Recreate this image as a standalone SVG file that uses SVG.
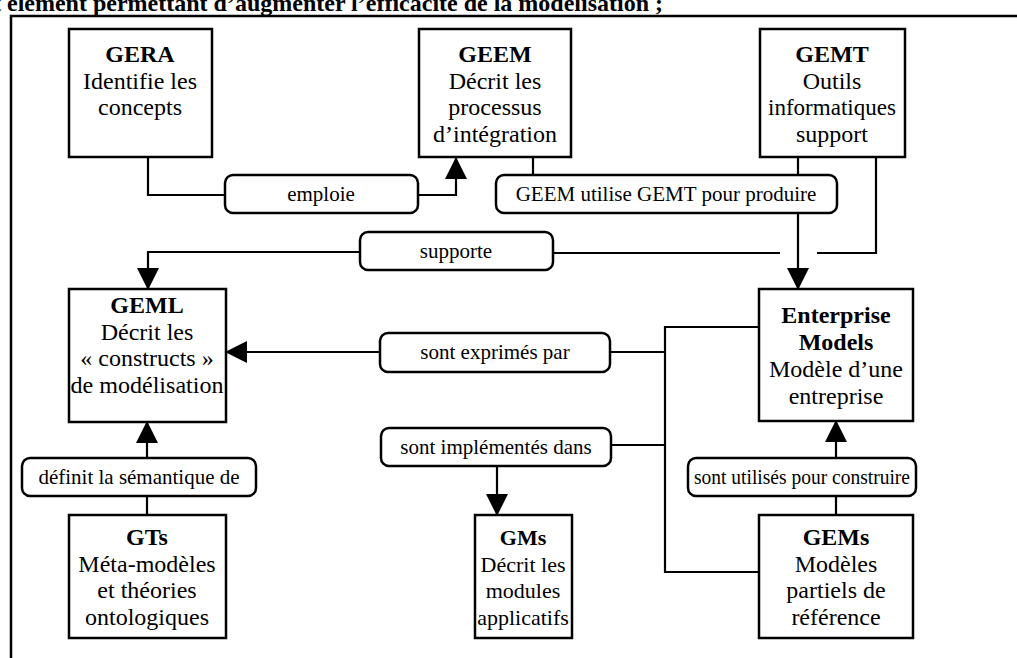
<svg xmlns="http://www.w3.org/2000/svg" width="1017" height="658" viewBox="0 0 1017 658">
<style>
.node{fill:#fff;stroke:#000;stroke-width:2.5}
.lab{fill:#fff;stroke:#000;stroke-width:2.5}
.t{font-family:"Liberation Serif","Times New Roman",serif;font-size:24px;text-anchor:middle;fill:#000}
.s{font-size:22px}
.b{font-weight:bold}
.lt{font-family:"Liberation Serif","Times New Roman",serif;font-size:21px;text-anchor:middle;fill:#000}
.c{fill:none;stroke:#000;stroke-width:2.2}
.frame{fill:none;stroke:#000;stroke-width:2.5}
.title{font-family:"Liberation Serif","Times New Roman",serif;font-size:24px;font-weight:bold;fill:#000}
</style>
<defs>
<marker id="ah" markerUnits="userSpaceOnUse" markerWidth="22" markerHeight="22" viewBox="0 0 22 22" refX="21" refY="11" orient="auto">
<path d="M0,0 L22,11 L0,22 Z" fill="#000"/>
</marker>
</defs>
<rect width="1017" height="658" fill="#fff"/>
<text class="title" x="-7" y="11">t élément permettant d’augmenter l’efficacité de la modélisation ;</text>
<path class="frame" d="M11,658 V16 H1017"/>

<g id="connectors">
<path class="c" d="M148,157 V195 H225"/>
<path class="c" d="M418,195 H456 V158" marker-end="url(#ah)"/>
<path class="c" d="M533,157 V175"/>
<path class="c" d="M798,157 V175"/>
<path class="c" d="M798,213 V289" marker-end="url(#ah)"/>
<path class="c" d="M876,157 V253 H817"/>
<path class="c" d="M780,253 H553"/>
<path class="c" d="M360,252 H148 V289" marker-end="url(#ah)"/>
<path class="c" d="M759,327 H665 V572 H759"/>
<path class="c" d="M610,352 H665"/>
<path class="c" d="M380,352 H226" marker-end="url(#ah)"/>
<path class="c" d="M611,445 H665"/>
<path class="c" d="M497,466 V515" marker-end="url(#ah)"/>
<path class="c" d="M147,515 V496"/>
<path class="c" d="M147,458 V422" marker-end="url(#ah)"/>
<path class="c" d="M836,515 V496"/>
<path class="c" d="M836,458 V421" marker-end="url(#ah)"/>
</g>

<g id="lbl-emploie"><rect class="lab" x="225" y="175" width="193" height="38" rx="8"/><text class="lt" x="321" y="201">emploie</text></g>
<g id="lbl-geem-utilise"><rect class="lab" x="496" y="175" width="341" height="38" rx="8"/><text class="lt" x="666" y="201">GEEM utilise GEMT pour produire</text></g>
<g id="lbl-supporte"><rect class="lab" x="360" y="232" width="193" height="38" rx="8"/><text class="lt" x="456" y="258">supporte</text></g>
<g id="lbl-exprimes"><rect class="lab" x="380" y="333" width="230" height="39" rx="8"/><text class="lt" x="495" y="359">sont exprimés par</text></g>
<g id="lbl-implementes"><rect class="lab" x="381" y="428" width="230" height="38" rx="8"/><text class="lt" x="496" y="454">sont implémentés dans</text></g>
<g id="lbl-definit"><rect class="lab" x="22" y="458" width="234" height="38" rx="8"/><text class="lt" x="139" y="484">définit la sémantique de</text></g>
<g id="lbl-utilises"><rect class="lab" x="688" y="458" width="228" height="38" rx="8"/><text class="lt" x="802" y="484" textLength="216" lengthAdjust="spacingAndGlyphs">sont utilisés pour construire</text></g>

<g id="GERA"><rect class="node" x="69" y="29" width="143" height="128"/>
<text class="t b" x="140" y="62">GERA</text><text class="t" x="140" y="89">Identifie les</text><text class="t" x="140" y="115">concepts</text></g>
<g id="GEEM"><rect class="node" x="419" y="29" width="152" height="128"/>
<text class="t b" x="495" y="62">GEEM</text><text class="t" x="495" y="89">Décrit les</text><text class="t" x="495" y="115">processus</text><text class="t" x="495" y="142">d’intégration</text></g>
<g id="GEMT"><rect class="node" x="760" y="29" width="145" height="128"/>
<text class="t b" x="832" y="62">GEMT</text><text class="t" x="832" y="89">Outils</text><text class="t" x="832" y="115" textLength="128" lengthAdjust="spacingAndGlyphs">informatiques</text><text class="t" x="832" y="142">support</text></g>
<g id="GEML"><rect class="node" x="69" y="289" width="157" height="133"/>
<text class="t b" x="147" y="313">GEML</text><text class="t" x="147" y="340">Décrit les</text><text class="t" x="147" y="366">« constructs »</text><text class="t" x="147" y="393" textLength="153" lengthAdjust="spacingAndGlyphs">de modélisation</text></g>
<g id="EnterpriseModels"><rect class="node" x="759" y="289" width="154" height="132"/>
<text class="t b" x="836" y="323">Enterprise</text><text class="t b" x="836" y="350">Models</text><text class="t" x="836" y="377">Modèle d’une</text><text class="t" x="836" y="404">entreprise</text></g>
<g id="GTs"><rect class="node" x="69" y="515" width="157" height="123"/>
<text class="t b" x="147" y="545">GTs</text><text class="t" x="147" y="572">Méta-modèles</text><text class="t" x="147" y="598">et théories</text><text class="t" x="147" y="625">ontologiques</text></g>
<g id="GMs"><rect class="node" x="475" y="515" width="97" height="123"/>
<text class="t s b" x="523" y="545">GMs</text><text class="t s" x="523" y="572">Décrit les</text><text class="t s" x="523" y="598">modules</text><text class="t s" x="523" y="625">applicatifs</text></g>
<g id="GEMs"><rect class="node" x="759" y="515" width="154" height="123"/>
<text class="t b" x="836" y="545">GEMs</text><text class="t" x="836" y="572">Modèles</text><text class="t" x="836" y="598">partiels de</text><text class="t" x="836" y="625">référence</text></g>
</svg>
